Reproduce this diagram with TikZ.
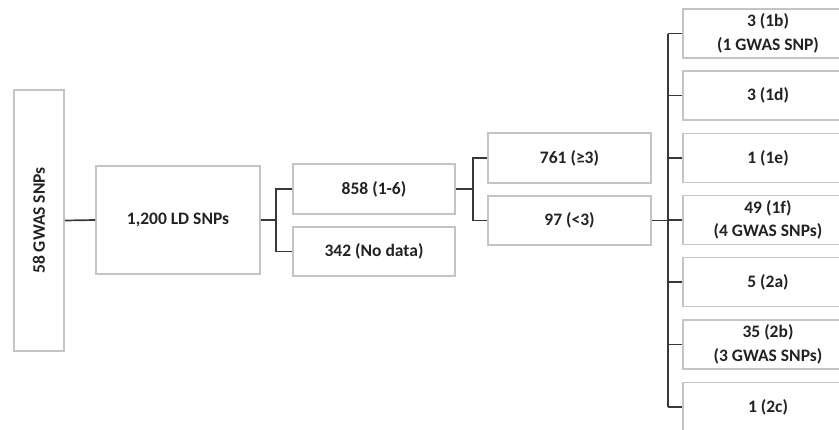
\documentclass[tikz,border=0pt]{standalone}
\usepackage{fontspec}
\setmainfont{Carlito}
\begin{document}
\begin{tikzpicture}[x=1pt,y=-1pt,
  box/.style={draw=boxgray,line width=1.6pt,rectangle,inner sep=0pt,minimum height=49pt,
    align=center,text=txt,font=\bfseries\fontsize{17.5}{23.5}\selectfont},
  conn/.style={draw=conngray,line width=1.7pt}]
\definecolor{boxgray}{HTML}{C4C4C4}
\definecolor{conngray}{HTML}{383838}
\definecolor{txt}{HTML}{222222}
\useasboundingbox (0,0) rectangle (839,429);
\clip (0,0) rectangle (839,429);
\node[box,minimum width=50pt,minimum height=261pt] (g58) at (39,220.5) {\rotatebox{90}{58 GWAS SNPs}};
\node[box,minimum width=164pt,minimum height=108pt] (ld) at (178,220) {1,200 LD SNPs};
\node[box,minimum width=162pt,minimum height=50pt] (a858) at (374,189) {858 (1-6)};
\node[box,minimum width=162pt] (a342) at (374,251.5) {342 (No data)};
\node[box,minimum width=163pt,minimum height=50pt] (a761) at (569.5,158) {761 (≥3)};
\node[box,minimum width=163pt] (a97) at (569.5,220.5) {97 (<3)};
\node[box,minimum width=170pt] (r1) at (768,33.5) {3 (1b)\\(1 GWAS SNP)};
\node[box,minimum width=170pt] (r2) at (768,95.5) {3 (1d)};
\node[box,minimum width=170pt] (r3) at (768,158) {1 (1e)};
\node[box,minimum width=170pt] (r4) at (768,220) {49 (1f)\\(4 GWAS SNPs)};
\node[box,minimum width=170pt] (r5) at (768,282) {5 (2a)};
\node[box,minimum width=170pt] (r6) at (768,344.5) {35 (2b)\\(3 GWAS SNPs)};
\node[box,minimum width=170pt] (r7) at (768,407) {1 (2c)};
\draw[conn] (g58.east) -- (ld.west);
\draw[conn] (ld.east) -- ++(15,0) coordinate (j1);
\draw[conn] (a858.west) -| (j1) |- (a342.west);
\draw[conn] (a858.east) -- ++(17,0) coordinate (j2);
\draw[conn] (a761.west) -| (j2) |- (a97.west);
\draw[conn] (a97.east) -- ++(16,0) coordinate (j3);
\draw[conn] (j3 |- r1.west) -- (j3 |- r7.west);
\foreach \r in {r1,r2,r3,r4,r5,r6,r7} \draw[conn] (j3 |- \r.west) -- (\r.west);
\end{tikzpicture}
\end{document}
